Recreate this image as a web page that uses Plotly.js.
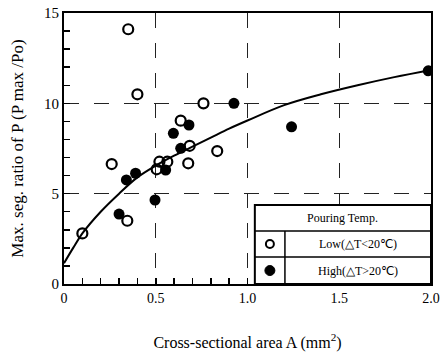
<!DOCTYPE html>
<html>
<head>
<meta charset="utf-8">
<script src="https://cdn.plot.ly/plotly-3.0.1.min.js"></script>
<style>html,body{margin:0;padding:0;background:#fff;}#chart{width:448px;height:354px;}</style>
</head>
<body>
<div id="chart"></div>
<script>
// Low pouring temperature (open circles)
const lowX = [0.35, 0.40, 0.76, 0.636, 0.685, 0.835, 0.26, 0.52, 0.563, 0.505, 0.677, 0.345, 0.10];
const lowY = [14.1, 10.5, 10.0, 9.04, 7.65, 7.36, 6.64, 6.77, 6.77, 6.35, 6.68, 3.5, 2.8];
// High pouring temperature (filled circles)
const highX = [0.926, 0.681, 0.596, 0.636, 0.554, 0.39, 0.34, 0.496, 0.30, 1.985, 1.24];
const highY = [10.0, 8.8, 8.34, 7.51, 6.31, 6.13, 5.76, 4.65, 3.87, 11.8, 8.7];
// fitted curve
const curveX = [0, 0.05, 0.1, 0.2, 0.3, 0.4, 0.5, 0.6, 0.7, 0.8, 0.9, 1.0, 1.2, 1.4, 1.6, 1.8, 2.0];
const curveY = [1.15, 2.0, 2.8, 4.0, 5.0, 5.9, 6.55, 7.1, 7.6, 8.1, 8.6, 9.05, 9.9, 10.5, 11.0, 11.45, 11.85];

const xTickVals = [0, 0.5, 1.0, 1.5, 2.0];
const xTickText = ['0', '0.5', '1.0', '1.5', '2.0'];
const yTickVals = [0, 5, 10, 15];
const yTickText = ['0', '5', '10', '15'];

const legendTitle = 'Pouring Temp.';
const legendLow = 'Low(△T<20℃)';
const legendHigh = 'High(△T>20℃)';

const serif = 'Liberation Serif, Times New Roman, serif';

const traces = [
  {x: curveX, y: curveY, mode: 'lines', line: {color: '#000', width: 2, shape: 'spline'}, hoverinfo: 'skip', showlegend: false},
  {x: lowX, y: lowY, mode: 'markers', marker: {symbol: 'circle-open', size: 10, color: '#000', line: {width: 2.2, color: '#000'}}, showlegend: false},
  {x: highX, y: highY, mode: 'markers', marker: {symbol: 'circle', size: 11, color: '#000'}, showlegend: false}
];

// legend table (data coordinates of the box corners)
const bx0 = 1.04, bx1 = 2.0, by0 = 0, by1 = 4.37, row1 = 2.93, row2 = 1.49, colDiv = 1.204;
const shapes = [
  {type: 'rect', xref: 'x', yref: 'y', x0: bx0, x1: bx1, y0: by0, y1: by1, fillcolor: '#fff', line: {color: '#000', width: 2}, layer: 'above'},
  {type: 'line', xref: 'x', yref: 'y', x0: bx0, x1: bx1, y0: row1, y1: row1, line: {color: '#000', width: 1.5}, layer: 'above'},
  {type: 'line', xref: 'x', yref: 'y', x0: bx0, x1: bx1, y0: row2, y1: row2, line: {color: '#000', width: 1.5}, layer: 'above'},
  {type: 'line', xref: 'x', yref: 'y', x0: colDiv, x1: colDiv, y0: by0, y1: row1, line: {color: '#000', width: 1.5}, layer: 'above'},
  {type: 'circle', xref: 'x', yref: 'y', xsizemode: 'pixel', ysizemode: 'pixel', xanchor: (bx0 + colDiv) / 2, yanchor: (row1 + row2) / 2, x0: -4, x1: 4, y0: -4, y1: 4, line: {color: '#000', width: 2}, fillcolor: '#fff', layer: 'above'},
  {type: 'circle', xref: 'x', yref: 'y', xsizemode: 'pixel', ysizemode: 'pixel', xanchor: (bx0 + colDiv) / 2, yanchor: (row2 + by0) / 2, x0: -5, x1: 5, y0: -5, y1: 5, line: {color: '#000', width: 1}, fillcolor: '#000', layer: 'above'}
];
const annotations = [
  {xref: 'x', yref: 'y', x: (bx0 + bx1) / 2, y: (by1 + row1) / 2, text: legendTitle, showarrow: false, font: {family: serif, size: 12, color: '#000'}},
  {xref: 'x', yref: 'y', x: (colDiv + bx1) / 2, y: (row1 + row2) / 2, text: legendLow, showarrow: false, font: {family: serif, size: 12, color: '#000'}},
  {xref: 'x', yref: 'y', x: (colDiv + bx1) / 2, y: (row2 + by0) / 2, text: legendHigh, showarrow: false, font: {family: serif, size: 12, color: '#000'}}
];

const layout = {
  width: 448, height: 354,
  margin: {l: 64, r: 17, t: 13, b: 70},
  paper_bgcolor: '#fff', plot_bgcolor: '#fff',
  showlegend: false,
  font: {family: serif, color: '#000'},
  xaxis: {
    range: [0, 2.0], tickvals: xTickVals, ticktext: xTickText,
    ticks: 'inside', ticklen: 6, tickwidth: 1.5, tickcolor: '#000',
    minor: {dtick: 0.1, tick0: 0, ticks: 'inside', ticklen: 6, tickwidth: 1.5, tickcolor: '#000', showgrid: false},
    showgrid: true, gridcolor: '#222', gridwidth: 1, griddash: 'longdash',
    zeroline: false, showline: true, linecolor: '#000', linewidth: 2, mirror: true,
    tickfont: {family: serif, size: 14, color: '#000'},
    title: {text: 'Cross-sectional area A (mm<sup>2</sup>)', font: {family: serif, size: 16, color: '#000'}, standoff: 32}
  },
  yaxis: {
    range: [0, 15], tickvals: yTickVals, ticktext: yTickText,
    ticks: 'inside', ticklen: 6, tickwidth: 1.5, tickcolor: '#000',
    minor: {dtick: 1, tick0: 0, ticks: 'inside', ticklen: 6, tickwidth: 1.5, tickcolor: '#000', showgrid: false},
    showgrid: true, gridcolor: '#222', gridwidth: 1, griddash: 'longdash',
    zeroline: false, showline: true, linecolor: '#000', linewidth: 2, mirror: true,
    tickfont: {family: serif, size: 15, color: '#000'},
    title: {text: 'Max. seg. ratio of P (P max /Po)', font: {family: serif, size: 17, color: '#000'}, standoff: 16}
  },
  shapes: shapes,
  annotations: annotations
};

Plotly.newPlot('chart', traces, layout, {displayModeBar: false, staticPlot: true});
</script>
</body>
</html>
